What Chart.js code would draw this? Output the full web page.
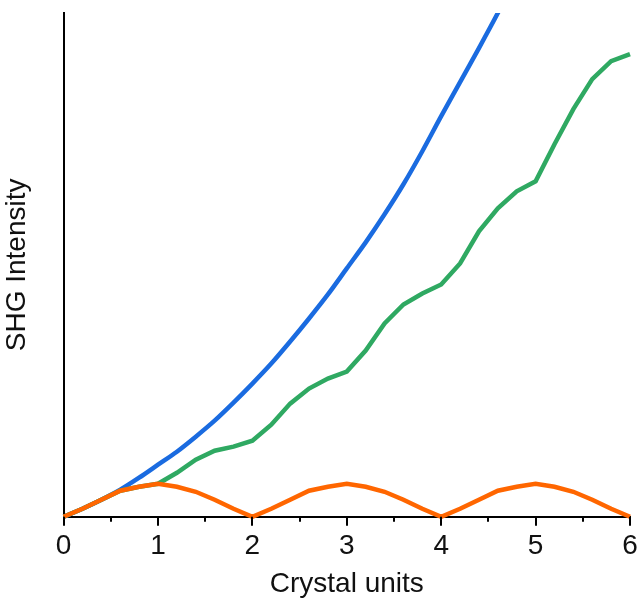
<!DOCTYPE html>
<html>
<head>
<meta charset="utf-8">
<script src="https://cdn.jsdelivr.net/npm/chart.js@4/dist/chart.umd.min.js"></script>
<style>
  html, body { margin: 0; padding: 0; background: #fff; }
  #wrap { width: 640px; height: 606px; }
</style>
</head>
<body>
<div id="wrap"><canvas id="shgChart"></canvas></div>
<script>
// crystal units sampled every 0.2
const crystalUnits = [0, 0.2, 0.4, 0.6, 0.8, 1.0, 1.2, 1.4, 1.6, 1.8, 2.0,
    2.2, 2.4, 2.6, 2.8, 3.0, 3.2, 3.4, 3.6, 3.8, 4.0,
    4.2, 4.4, 4.6, 4.8, 5.0, 5.2, 5.4, 5.6, 5.8, 6.0];

// SHG intensity (arbitrary units, axis top = 503)
const phaseMatched = [0, 8, 17, 27, 39, 52, 65, 80, 96, 114, 133,
    153, 175, 198, 222, 248, 274, 302, 332, 365, 400,
    434, 468, 503, 540, 578];
const quasiPhaseMatched = [0, 8, 17, 26, 30, 33, 44, 57, 66, 70, 76,
    92, 113, 128, 138, 145, 166, 193, 212, 223, 232,
    253, 285, 308, 325, 335, 372, 407, 437, 455, 462];
const notMatched = [0, 8, 17, 26, 30, 33, 30, 25, 17, 8, 0,
    8, 17, 26, 30, 33, 30, 25, 17, 8, 0,
    8, 17, 26, 30, 33, 30, 25, 17, 8, 0];

const xTicks = [0, 1, 2, 3, 4, 5, 6];
const yMax = 503;

function toPoints(values) {
    return values.map((v, i) => ({ x: crystalUnits[i], y: v }));
}

// major/minor tick marks under the x axis
const tickMarks = {
    id: 'tickMarks',
    afterDraw(chart) {
        const ctx = chart.ctx;
        const xs = chart.scales.x;
        const y0 = chart.chartArea.bottom;
        ctx.save();
        ctx.strokeStyle = '#000';
        ctx.lineWidth = 2;
        for (let v = 0; v <= 6; v += 0.5) {
            const px = Math.round(xs.getPixelForValue(v));
            const len = Number.isInteger(v) ? 9 : 5;
            ctx.beginPath();
            ctx.moveTo(px, y0);
            ctx.lineTo(px, y0 + len);
            ctx.stroke();
        }
        ctx.restore();
    }
};

const font = { family: '"Liberation Sans", Arial, sans-serif', size: 28, lineHeight: 1.2 };
const clipBox = { left: 4, right: 4, top: 0, bottom: 4 };

new Chart(document.getElementById('shgChart').getContext('2d'), {
    type: 'line',
    data: {
        datasets: [{
            label: 'Not phase matched',
            data: toPoints(notMatched),
            borderColor: '#ff6600',
            borderWidth: 4.5,
            pointRadius: 0,
            tension: 0,
            clip: clipBox
        }, {
            label: 'Quasi phase matched',
            data: toPoints(quasiPhaseMatched),
            borderColor: '#2fa962',
            borderWidth: 4.5,
            pointRadius: 0,
            tension: 0,
            clip: clipBox
        }, {
            label: 'Phase matched',
            data: toPoints(phaseMatched),
            borderColor: '#1a6be0',
            borderWidth: 4.5,
            pointRadius: 0,
            tension: 0.3,
            clip: clipBox
        }]
    },
    options: {
        responsive: true,
        maintainAspectRatio: false,
        animation: false,
        layout: { padding: { top: 13, right: 10, bottom: 3, left: 0 } },
        plugins: {
            legend: { display: false },
            tooltip: { enabled: false }
        },
        scales: {
            x: {
                type: 'linear',
                min: 0,
                max: 6,
                grid: { display: false, drawTicks: true, tickLength: 13 },
                border: { display: true, color: '#000', width: 2 },
                afterBuildTicks(scale) {
                    scale.ticks = xTicks.map(v => ({ value: v }));
                },
                ticks: {
                    color: '#111',
                    font: font,
                    padding: 0,
                    maxRotation: 0,
                    autoSkip: false
                },
                title: {
                    display: true,
                    text: 'Crystal units',
                    color: '#111',
                    font: font,
                    padding: { top: 4, bottom: 2 }
                }
            },
            y: {
                min: 0,
                max: yMax,
                grid: { display: false, drawTicks: false },
                border: { display: true, color: '#000', width: 2 },
                ticks: { display: false },
                title: {
                    display: true,
                    text: 'SHG Intensity',
                    color: '#111',
                    font: font,
                    padding: { top: 0, bottom: 30 }
                }
            }
        }
    },
    plugins: [tickMarks]
});
</script>
</body>
</html>
